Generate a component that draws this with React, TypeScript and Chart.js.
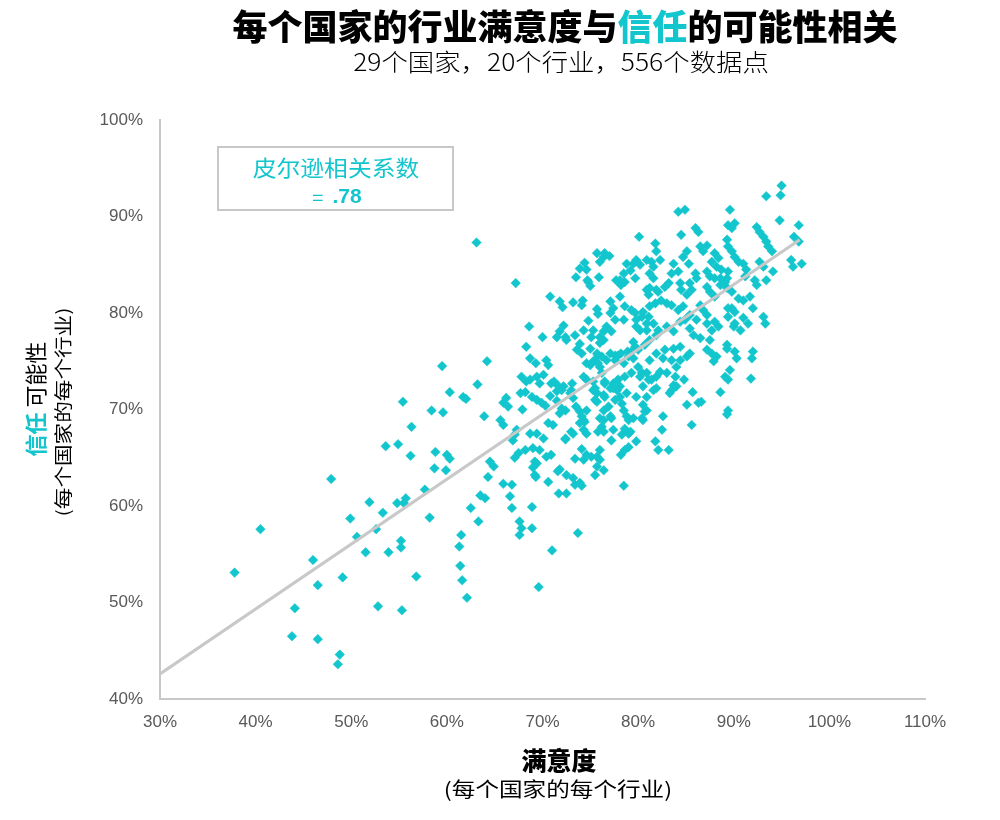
import React, { useEffect, useRef } from "react";
import { Chart, registerables } from "chart.js";

Chart.register(...registerables);

const CYAN = "#13C6CD";
const AXIS_GREY = "#C8C8C8";
const CJK = '"Noto Sans CJK SC", "Noto Sans", sans-serif';

const xTicks = [30, 40, 50, 60, 70, 80, 90, 100, 110];
const yTicks = [40, 50, 60, 70, 80, 90, 100];

const trendSatisfaction = [30, 96.9];
const trendTrust = [42.6, 87.6];
const pearson = ".78";

const lowTail: [number, number][] = [
  [56.3, 68.2], [53.6, 66.2], [54.9, 66.4], [56.2, 65.2], [47.9, 62.8], [51.9, 60.4], [53.3, 59.3], [54.8, 60.3],
  [55.7, 60.8], [55.5, 60.3], [40.5, 57.6], [49.9, 58.7], [50.6, 56.8], [52.6, 57.6], [51.5, 55.2], [53.9, 55.2],
  [55.2, 56.4], [55.2, 55.7], [37.8, 53.1], [46.0, 54.4], [46.5, 51.8], [49.1, 52.6], [56.8, 52.7], [44.1, 49.4],
  [52.8, 49.6], [55.3, 49.2], [43.8, 46.5], [46.5, 46.2], [48.8, 44.6], [48.6, 43.6],
  [55.4, 70.8], [58.4, 69.9], [59.6, 69.7], [59.5, 74.5], [64.2, 75.0], [63.2, 72.6], [60.3, 71.8], [61.7, 71.3],
  [62.0, 71.1], [63.9, 69.3], [58.8, 65.6], [60.0, 65.3], [60.3, 64.9], [58.7, 63.9], [59.9, 63.7], [57.7, 61.7],
  [58.2, 58.8], [61.5, 57.0], [61.3, 55.8], [61.4, 53.8], [61.6, 52.3], [62.1, 50.5], [63.5, 61.1], [64.0, 60.8],
  [62.5, 59.8], [63.3, 58.4], [64.5, 64.6], [64.9, 64.1], [64.3, 63.0], [63.1, 87.3],
];

const middleBand: [number, number][] = [
  [67.2, 83.1], [70.8, 81.7], [71.8, 81.2], [72.1, 80.6], [73.2, 81.1], [74.1, 80.8], [74.2, 81.3], [68.6, 78.6],
  [70.0, 77.5], [72.2, 78.7], [71.8, 78.1], [71.5, 77.5], [72.4, 77.5], [72.5, 77.2], [73.4, 77.7], [74.3, 78.2],
  [73.9, 76.8], [73.6, 76.2], [68.3, 76.5], [68.7, 75.3], [69.3, 74.8], [70.4, 75.1], [70.6, 74.6], [74.6, 74.8],
  [75.3, 75.0], [65.6, 68.9], [65.9, 68.4], [67.8, 73.4], [68.3, 72.9], [68.7, 73.1], [69.4, 73.4], [70.1, 73.6],
  [69.7, 72.7], [71.2, 72.9], [71.6, 72.5], [72.2, 72.4], [73.1, 72.7], [73.0, 72.0], [66.2, 71.2], [65.9, 70.7],
  [66.4, 70.3], [67.7, 71.7], [68.2, 71.8], [67.9, 70.0], [68.9, 71.3], [69.4, 71.0], [69.9, 70.7], [70.3, 70.4],
  [70.8, 71.4], [71.5, 70.9], [72.0, 70.1], [72.4, 69.9], [71.8, 69.6], [73.2, 71.2], [73.5, 70.3], [73.9, 69.8],
  [74.1, 69.3], [74.4, 68.7], [67.3, 67.9], [67.1, 67.4], [66.9, 66.8], [67.5, 65.5], [67.1, 65.0], [68.7, 67.5],
  [69.4, 67.5], [70.1, 67.0], [70.6, 68.6], [71.1, 68.4], [68.2, 65.8], [69.0, 66.0], [69.7, 65.8], [70.4, 65.1],
  [70.9, 65.3], [72.4, 67.0], [73.2, 67.5], [74.1, 65.9], [73.4, 64.9], [74.3, 64.8], [75.1, 65.1], [65.9, 62.3],
  [66.8, 62.2], [66.6, 61.0], [66.8, 59.8], [69.2, 63.2], [69.4, 64.4], [70.6, 62.5], [71.6, 63.6], [71.8, 63.8],
  [72.5, 63.2], [73.2, 62.9], [73.4, 62.2], [73.9, 62.4], [74.1, 62.1], [75.5, 63.2], [75.7, 64.1], [76.4, 63.7],
  [71.7, 61.3], [72.5, 61.3], [68.9, 59.9], [67.6, 58.4], [67.8, 57.7], [68.9, 57.7], [73.7, 57.2], [67.6, 57.0],
  [71.0, 55.4], [69.6, 51.6], [74.3, 67.9], [74.6, 67.5], [73.9, 68.6], [73.0, 67.7], [72.4, 66.9], [70.9, 72.7],
  [71.5, 71.9], [72.0, 72.0], [72.9, 71.7], [74.3, 73.4], [74.6, 73.1], [75.0, 74.6], [75.5, 75.1], [75.3, 72.9],
  [75.5, 72.2], [75.3, 72.0], [75.5, 71.0], [74.6, 69.9], [74.3, 68.9], [74.6, 65.3], [75.7, 65.1], [69.2, 64.6],
  [69.0, 64.0], [69.3, 63.0],
];

const upperCore: [number, number][] = [
  [75.7, 86.2], [76.4, 85.8], [77.0, 85.9], [76.0, 85.3], [74.4, 85.2], [73.9, 84.6], [74.6, 84.5], [73.5, 83.7],
  [74.7, 83.4], [75.0, 82.8], [75.9, 83.7], [77.7, 83.4], [74.8, 83.2], [75.7, 80.4], [75.8, 79.9], [77.1, 81.2],
  [77.4, 80.5], [74.8, 79.2], [75.3, 78.2], [76.0, 77.5], [76.4, 78.1], [75.1, 77.5], [75.8, 75.6], [76.0, 74.4],
  [77.6, 75.6], [75.7, 70.8], [76.4, 71.5], [76.9, 70.3], [76.4, 68.9], [77.1, 69.3], [77.4, 67.9], [76.0, 65.8],
  [77.2, 66.8], [76.0, 64.8], [76.4, 67.7], [75.8, 67.7], [78.3, 67.4], [79.0, 67.5], [79.8, 66.7], [80.5, 68.9],
  [80.9, 69.9], [79.8, 71.3], [78.8, 71.7], [78.1, 72.4], [77.1, 72.2], [78.8, 69.3], [79.0, 68.9], [79.5, 69.1],
  [78.6, 68.0], [79.2, 67.7], [77.2, 69.1], [78.6, 65.8], [79.0, 66.1], [78.2, 65.3], [78.5, 62.1], [76.0, 69.1],
  [76.2, 68.2], [76.4, 69.9], [76.5, 71.3], [78.2, 75.8], [78.9, 76.0], [78.5, 74.8], [79.5, 75.3], [80.0, 74.4],
  [80.4, 73.8], [77.4, 72.7], [77.8, 72.0], [78.1, 71.3], [77.6, 71.0], [78.3, 70.6], [78.5, 69.9], [76.2, 73.8],
  [76.5, 72.9], [79.7, 76.5], [80.0, 76.2], [79.5, 77.0], [78.8, 85.1], [79.5, 85.1], [79.2, 84.4], [78.5, 84.1],
  [78.6, 83.2], [78.1, 83.4], [80.9, 85.5], [81.4, 85.3], [81.9, 82.4], [80.9, 82.4], [81.1, 81.9], [78.5, 79.3],
  [79.8, 79.3], [80.4, 79.6], [80.9, 78.9], [80.2, 78.2], [74.1, 75.8], [75.0, 76.3], [76.0, 76.9], [76.4, 77.2],
  [75.7, 75.8], [76.2, 75.5], [75.8, 74.8], [76.7, 75.1], [77.1, 75.8], [77.9, 75.6], [77.6, 75.1], [79.0, 75.5],
  [79.5, 76.2], [80.7, 76.7], [81.2, 77.2], [81.9, 77.7], [75.7, 71.7], [76.5, 72.7], [77.4, 72.2], [77.9, 73.1],
  [78.6, 73.4], [79.3, 73.8], [80.5, 72.4], [81.1, 73.1], [81.9, 73.4], [81.6, 72.0], [80.2, 73.4], [80.9, 73.8],
  [81.2, 75.1], [81.4, 73.1],
];

const rightCore: [number, number][] = [
  [92.0, 76.0], [91.9, 75.3], [91.8, 73.2], [89.3, 76.3], [90.1, 76.0], [90.3, 75.3], [88.6, 71.8], [89.4, 69.9],
  [89.3, 69.5], [89.6, 74.1], [89.1, 73.4], [89.4, 73.1], [87.7, 75.8], [88.2, 75.5], [87.9, 75.0], [87.2, 76.2],
  [85.7, 71.8], [86.6, 70.8], [84.8, 73.1], [82.3, 73.9], [83.0, 73.8], [83.9, 73.4], [84.0, 74.4], [84.4, 75.1],
  [85.1, 75.5], [85.4, 75.8], [81.9, 75.8], [82.8, 76.2], [83.7, 76.3], [84.4, 76.5], [82.6, 75.3], [83.5, 75.1],
  [84.0, 72.4], [83.5, 72.0], [80.9, 71.3], [80.5, 70.5], [80.7, 69.8], [80.4, 69.1], [85.6, 68.4], [85.1, 70.5],
  [86.3, 70.7], [83.2, 65.8], [82.1, 65.8], [81.8, 66.7], [82.5, 67.9], [82.6, 69.3], [81.9, 72.2], [83.3, 71.7],
  [83.7, 72.5],
];

const upperRight: [number, number][] = [
  [89.4, 89.1], [89.8, 88.8], [90.1, 89.3], [92.4, 88.9], [92.7, 88.4], [93.1, 87.9], [93.4, 87.4], [93.6, 86.9],
  [94.0, 86.4], [94.8, 89.6], [96.3, 87.9], [96.8, 87.4], [96.0, 85.5], [96.2, 84.8], [86.0, 88.8], [86.3, 88.4],
  [84.5, 88.1], [80.1, 87.9], [81.8, 87.2], [86.5, 86.9], [86.8, 86.4], [87.2, 87.0], [85.1, 86.4], [84.7, 85.8],
  [85.3, 85.1], [89.3, 87.6], [89.4, 86.9], [89.8, 86.4], [90.1, 85.8], [90.5, 85.3], [88.0, 86.2], [88.4, 85.7],
  [87.7, 85.3], [88.2, 84.8], [88.7, 84.5], [89.4, 84.3], [89.3, 83.6], [91.0, 85.1], [91.3, 84.5], [92.7, 85.3],
  [93.1, 84.8], [94.1, 84.3], [93.4, 83.4], [92.2, 83.4], [92.4, 82.9], [90.5, 81.5], [91.0, 81.3], [91.7, 81.7],
  [89.8, 80.5], [90.1, 80.1], [92.0, 80.5], [91.0, 79.5], [93.1, 79.6], [93.3, 78.9], [91.5, 78.9], [87.2, 84.3],
  [87.5, 83.8], [88.0, 83.6], [88.6, 83.6], [89.1, 83.2], [87.2, 82.7], [87.5, 82.2], [88.0, 81.7], [88.6, 82.9],
  [89.3, 82.6], [89.8, 82.2], [86.0, 84.1], [86.1, 83.6], [85.4, 83.1], [85.6, 82.4], [85.1, 81.9], [84.5, 82.4],
  [84.4, 83.1], [83.7, 85.1], [83.5, 84.1], [84.2, 84.3], [83.2, 83.1], [82.8, 82.7], [82.3, 85.5], [81.6, 84.8],
  [81.2, 84.1], [81.6, 83.6], [81.9, 86.4], [79.8, 85.5], [80.2, 85.0], [79.7, 83.6], [78.2, 82.9], [76.5, 86.2],
  [81.2, 82.6], [82.1, 82.2], [82.4, 81.3], [83.0, 81.0], [81.8, 81.0], [81.2, 80.7], [83.5, 80.8], [84.2, 80.3],
  [84.7, 80.7], [85.4, 79.8], [84.9, 79.3], [84.4, 79.1], [86.5, 80.8], [86.8, 80.3], [87.2, 79.8], [86.1, 79.3],
  [87.2, 78.9], [88.0, 79.1], [88.4, 78.6], [87.7, 78.2], [89.4, 80.5], [89.4, 79.6], [90.0, 78.6], [90.7, 78.2],
  [78.1, 81.7], [78.6, 80.7], [79.3, 80.3], [79.7, 80.0], [77.1, 80.0], [77.6, 79.3], [76.7, 78.6], [77.2, 78.1],
  [80.5, 80.1], [81.1, 79.6], [81.6, 78.9], [82.1, 78.2], [80.9, 78.2], [79.8, 78.6], [83.0, 78.6], [83.7, 78.1],
  [85.4, 78.4], [85.8, 77.7], [86.5, 77.4], [87.5, 77.2], [89.3, 76.7], [95.0, 93.2], [94.9, 92.2], [93.4, 92.1],
  [96.8, 89.1], [89.6, 90.7], [97.1, 85.1], [84.2, 90.5], [84.9, 90.7], [91.2, 83.8], [90.1, 78.9],
];

type Run = { text: string; font: string; color: string };

function drawRuns(ctx: CanvasRenderingContext2D, runs: Run[], cx: number, cy: number, rot = 0, sx = 1) {
  ctx.save();
  ctx.translate(cx, cy);
  if (rot) ctx.rotate(rot);
  ctx.scale(sx, 1);
  ctx.textBaseline = "middle";
  ctx.textAlign = "left";
  let total = 0;
  const widths = runs.map((r) => {
    ctx.font = r.font;
    const w = ctx.measureText(r.text).width;
    total += w;
    return w;
  });
  let x = -total / 2;
  runs.forEach((r, i) => {
    ctx.font = r.font;
    ctx.fillStyle = r.color;
    ctx.fillText(r.text, x, 0);
    x += widths[i];
  });
  ctx.restore();
}

const textPlugin = {
  id: "customTexts",
  afterDraw(chart: any) {
    const ctx: CanvasRenderingContext2D = chart.ctx;
    drawRuns(ctx, [
      { text: "每个国家的行业满意度与", font: `900 35px ${CJK}`, color: "#000" },
      { text: "信任", font: `900 35px ${CJK}`, color: CYAN },
      { text: "的可能性相关", font: `900 35px ${CJK}`, color: "#000" },
    ], 565, 27);
    drawRuns(ctx, [{ text: "29个国家，20个行业，556个数据点", font: `300 24px ${CJK}`, color: "#000" }], 561, 62, 0, 1.1);

    drawRuns(ctx, [
      { text: "信任", font: `bold 22px ${CJK}`, color: CYAN },
      { text: " 可能性", font: `22px ${CJK}`, color: "#000" },
    ], 36, 399, -Math.PI / 2);
    drawRuns(ctx, [{ text: "(每个国家的每个行业)", font: `18px ${CJK}`, color: "#000" }], 63, 412, -Math.PI / 2, 1.2);

    drawRuns(ctx, [{ text: "满意度", font: `900 25px ${CJK}`, color: "#000" }], 559, 760);
    drawRuns(ctx, [{ text: "(每个国家的每个行业)", font: `20px ${CJK}`, color: "#000" }], 558, 789, 0, 1.18);

    ctx.save();
    ctx.strokeStyle = AXIS_GREY;
    ctx.lineWidth = 2;
    ctx.strokeRect(218, 147, 235, 63);
    ctx.restore();
    drawRuns(ctx, [{ text: "皮尔逊相关系数", font: `22px ${CJK}`, color: CYAN }], 336, 168, 0, 1.08);
    drawRuns(ctx, [
      { text: "=  ", font: `20px ${CJK}`, color: CYAN },
      { text: pearson, font: `bold 21px "Liberation Sans", Arial, sans-serif`, color: CYAN },
    ], 337, 197);
  },
};

export default function App() {
  const ref = useRef<HTMLCanvasElement>(null);
  useEffect(() => {
    const all = [...lowTail, ...middleBand, ...upperCore, ...rightCore, ...upperRight];
    const tickFont = { family: '"Liberation Sans", Arial, sans-serif', size: 17 };
    const chart = new Chart(ref.current as HTMLCanvasElement, {
      type: "scatter",
      data: {
        datasets: [
          {
            type: "line",
            data: trendSatisfaction.map((x, i) => ({ x, y: trendTrust[i] })),
            borderColor: AXIS_GREY,
            borderWidth: 3,
            pointRadius: 0,
            order: 0,
          } as any,
          {
            data: all.map(([x, y]) => ({ x, y })),
            pointStyle: "rectRot",
            pointRadius: 4.8,
            backgroundColor: CYAN,
            borderColor: CYAN,
            borderWidth: 0.5,
            order: 1,
          },
        ],
      },
      options: {
        responsive: false,
        animation: false,
        devicePixelRatio: 1,
        layout: { padding: { top: 120, right: 75, left: 0, bottom: 0 } },
        plugins: { legend: { display: false }, tooltip: { enabled: false } },
        scales: {
          x: {
            type: "linear",
            min: 30,
            max: 110,
            afterBuildTicks: (s: any) => { s.ticks = xTicks.map((v) => ({ value: v })); },
            afterFit: (s: any) => { s.height = 121; },
            grid: { display: false, drawTicks: false, tickLength: 0 },
            border: { display: true, color: AXIS_GREY, width: 2 },
            ticks: { callback: (v: any) => `${v}%`, color: "#595959", font: tickFont, padding: 13, maxRotation: 0 },
          },
          y: {
            type: "linear",
            min: 40,
            max: 100,
            afterBuildTicks: (s: any) => { s.ticks = yTicks.map((v) => ({ value: v })); },
            afterFit: (s: any) => { s.width = 160; },
            grid: { display: false, drawTicks: false, tickLength: 0 },
            border: { display: true, color: AXIS_GREY, width: 2 },
            ticks: { callback: (v: any) => `${v}%`, color: "#595959", font: tickFont, padding: 17 },
          },
        },
      },
      plugins: [textPlugin],
    });
    return () => chart.destroy();
  }, []);
  return (
    <div style={{ position: "absolute", left: 0, top: 0, width: 1000, height: 820, background: "#fff" }}>
      <canvas ref={ref} width={1000} height={820} style={{ display: "block" }} />
    </div>
  );
}
